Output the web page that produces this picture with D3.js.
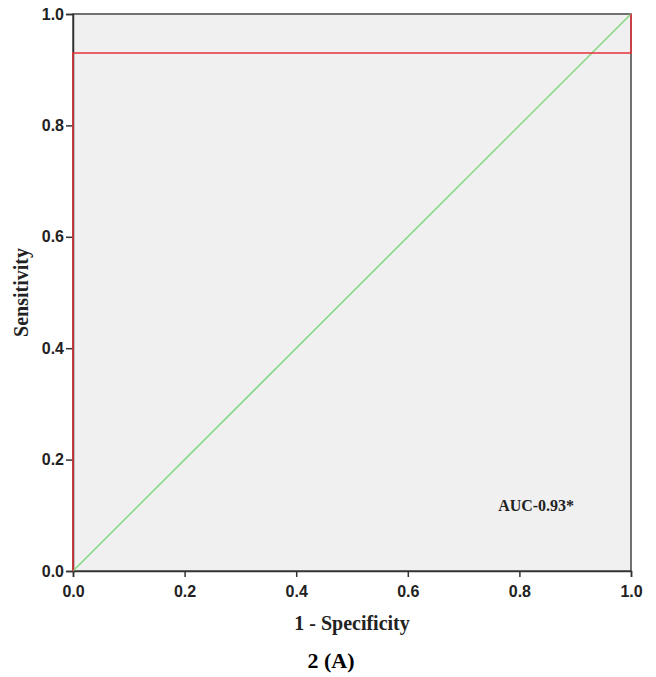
<!DOCTYPE html>
<html>
<head>
    <script src="https://d3js.org/d3.v7.min.js" charset="utf-8"></script>
    <style>
        body { margin: 0; background: #fff; }
        svg { font-family: "Liberation Serif", "Times New Roman", serif; }
        .axis text { font-size: 16px; font-weight: bold; fill: #222; }
        .axis path, .axis line { stroke: #333; stroke-width: 1.5px; }
    </style>
</head>
<body>
<script>
    // ROC curve points (1 - specificity, sensitivity)
    var rocX = [0, 0, 1, 1];
    var rocY = [0, 0.93, 0.93, 1];
    var refX = [0, 1];
    var refY = [0, 1];
    var ticks = [0, 0.2, 0.4, 0.6, 0.8, 1.0];
    var aucLabel = "AUC-0.93*";

    var margin = { top: 14, right: 25, bottom: 106, left: 73 },
        width = 656 - margin.left - margin.right,
        height = 677 - margin.top - margin.bottom;

    var svg = d3.select("body").append("svg")
        .attr("width", 656)
        .attr("height", 677)
        .append("g")
        .attr("transform", "translate(" + margin.left + "," + margin.top + ")");

    var x = d3.scaleLinear().domain([0, 1]).range([0, width]);
    var y = d3.scaleLinear().domain([0, 1]).range([height, 0]);

    svg.append("rect")
        .attr("width", width)
        .attr("height", height)
        .style("fill", "#f0f0f0")
        .style("stroke", "#444")
        .style("stroke-width", 1.5);

    svg.append("g")
        .attr("class", "x axis")
        .attr("transform", "translate(0," + height + ")")
        .call(d3.axisBottom(x).tickValues(ticks).tickFormat(d3.format(".1f")).tickSize(6).tickPadding(9));

    svg.append("g")
        .attr("class", "y axis")
        .call(d3.axisLeft(y).tickValues(ticks).tickFormat(d3.format(".1f")).tickSize(7).tickPadding(2));

    var line = d3.line()
        .x(function (d) { return x(d[0]); })
        .y(function (d) { return y(d[1]); });

    svg.append("path")
        .datum(d3.zip(refX, refY))
        .attr("d", line)
        .style("fill", "none")
        .style("stroke", "#80d880")
        .style("stroke-width", 1.5);

    svg.append("path")
        .datum(d3.zip(rocX, rocY))
        .attr("d", line)
        .style("fill", "none")
        .style("stroke", "#e8313a")
        .style("stroke-width", 1.5);

    svg.append("text")
        .attr("x", x(0.83))
        .attr("y", y(0.107))
        .attr("text-anchor", "middle")
        .style("font-size", "16px")
        .style("font-weight", "bold")
        .style("fill", "#222")
        .text(aucLabel);

    svg.append("text")
        .attr("x", width / 2)
        .attr("y", height + 59)
        .attr("text-anchor", "middle")
        .style("font-size", "20px")
        .style("font-weight", "bold")
        .style("fill", "#222")
        .text("1 - Specificity");

    svg.append("text")
        .attr("transform", "translate(" + (-45) + "," + (height / 2) + ") rotate(-90)")
        .attr("text-anchor", "middle")
        .style("font-size", "20px")
        .style("font-weight", "bold")
        .style("fill", "#222")
        .text("Sensitivity");

    svg.append("text")
        .attr("x", width / 2 - 21)
        .attr("y", height + 97)
        .attr("text-anchor", "middle")
        .style("font-size", "22px")
        .style("font-weight", "bold")
        .style("fill", "#000")
        .text("2 (A)");
</script>
</body>
</html>
